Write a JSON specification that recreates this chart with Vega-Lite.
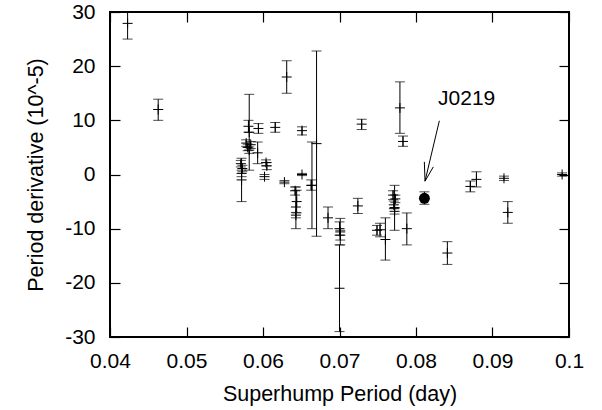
{
  "$schema": "https://vega.github.io/schema/vega-lite/v6.json",
  "width": 459,
  "height": 325,
  "autosize": {"type": "none"},
  "padding": {"left": 110, "top": 12, "right": 33, "bottom": 73},
  "background": "white",
  "config": {
    "view": {"stroke": "black", "strokeWidth": 2},
    "font": "Liberation Sans",
    "axis": {"grid": false, "domain": false, "tickColor": "black", "tickWidth": 1.2, "labelColor": "black", "titleColor": "black", "labelFont": "Liberation Sans", "titleFont": "Liberation Sans", "labelFontSize": 21, "titleFontSize": 21.5, "titleFontWeight": "normal", "labelFlush": false, "labelOverlap": false}
  },
  "datasets": {
    "pts": [
      {"star": "a", "x": 0.0423, "y": 27.9, "lo": 25.0, "hi": 30.0},
      {"star": "a", "x": 0.0463, "y": 12.0, "lo": 10.0, "hi": 13.9},
      {"star": "a", "x": 0.0572, "y": -1.0, "lo": -5.0, "hi": 3.0},
      {"star": "a", "x": 0.0571, "y": 2.0, "lo": 1.4, "hi": 2.6},
      {"star": "a", "x": 0.0573, "y": 1.1, "lo": 0.5, "hi": 1.7},
      {"star": "a", "x": 0.0572, "y": 0.2, "lo": -0.4, "hi": 0.8},
      {"star": "a", "x": 0.0582, "y": 7.8, "lo": 0.8, "hi": 14.8},
      {"star": "a", "x": 0.0581, "y": 8.9, "lo": 7.8, "hi": 10.0},
      {"star": "a", "x": 0.0578, "y": 5.8, "lo": 5.2, "hi": 6.4},
      {"star": "a", "x": 0.0580, "y": 5.0, "lo": 4.4, "hi": 5.6},
      {"star": "a", "x": 0.0582, "y": 4.5, "lo": 3.9, "hi": 5.1},
      {"star": "a", "x": 0.0584, "y": 5.5, "lo": 4.8, "hi": 6.1},
      {"star": "a", "x": 0.0593, "y": 4.0, "lo": 2.0, "hi": 6.0},
      {"star": "a", "x": 0.0594, "y": 8.5, "lo": 7.6, "hi": 9.4},
      {"star": "a", "x": 0.0604, "y": 2.2, "lo": 1.6, "hi": 2.7},
      {"star": "a", "x": 0.0605, "y": 1.6, "lo": 0.9, "hi": 2.2},
      {"star": "a", "x": 0.0602, "y": -0.4, "lo": -0.9, "hi": 0.0},
      {"star": "a", "x": 0.0616, "y": 8.7, "lo": 7.8, "hi": 9.6},
      {"star": "a", "x": 0.0628, "y": -1.4, "lo": -1.7, "hi": -1.1},
      {"star": "a", "x": 0.0631, "y": 18.0, "lo": 15.0, "hi": 21.0},
      {"star": "a", "x": 0.0643, "y": -6.0, "lo": -10.0, "hi": -2.3},
      {"star": "a", "x": 0.0642, "y": -3.0, "lo": -3.8, "hi": -2.3},
      {"star": "a", "x": 0.0644, "y": -5.0, "lo": -7.1, "hi": -2.9},
      {"star": "a", "x": 0.0643, "y": -7.5, "lo": -8.0, "hi": -7.0},
      {"star": "a", "x": 0.0651, "y": 8.1, "lo": 7.3, "hi": 8.8},
      {"star": "a", "x": 0.0651, "y": 0.0, "lo": -0.2, "hi": 0.2},
      {"star": "a", "x": 0.0664, "y": -2.0, "lo": -10.0, "hi": 6.0},
      {"star": "a", "x": 0.0663, "y": -2.0, "lo": -2.9, "hi": -1.0},
      {"star": "a", "x": 0.0670, "y": 5.7, "lo": -11.4, "hi": 22.8},
      {"star": "a", "x": 0.0685, "y": -8.0, "lo": -10.0, "hi": -6.0},
      {"star": "a", "x": 0.0700, "y": -21.0, "lo": -29.0, "hi": -13.0},
      {"star": "a", "x": 0.0701, "y": -10.6, "lo": -13.0, "hi": -8.1},
      {"star": "a", "x": 0.0700, "y": -10.0, "lo": -11.2, "hi": -8.75},
      {"star": "a", "x": 0.0701, "y": -11.2, "lo": -12.1, "hi": -10.3},
      {"star": "a", "x": 0.0724, "y": -5.8, "lo": -7.2, "hi": -4.4},
      {"star": "a", "x": 0.0729, "y": 9.3, "lo": 8.3, "hi": 10.2},
      {"star": "a", "x": 0.0749, "y": -10.3, "lo": -11.2, "hi": -9.4},
      {"star": "a", "x": 0.0753, "y": -10.2, "lo": -11.5, "hi": -9.0},
      {"star": "a", "x": 0.0760, "y": -12.0, "lo": -15.8, "hi": -8.0},
      {"star": "a", "x": 0.0772, "y": -6.1, "lo": -10.3, "hi": -2.0},
      {"star": "a", "x": 0.0770, "y": -3.8, "lo": -4.6, "hi": -3.0},
      {"star": "a", "x": 0.0773, "y": -4.5, "lo": -5.2, "hi": -3.8},
      {"star": "a", "x": 0.0771, "y": -5.6, "lo": -6.3, "hi": -4.9},
      {"star": "a", "x": 0.0772, "y": -6.8, "lo": -7.3, "hi": -6.3},
      {"star": "a", "x": 0.0779, "y": 12.3, "lo": 7.6, "hi": 17.1},
      {"star": "a", "x": 0.0783, "y": 6.1, "lo": 5.2, "hi": 7.1},
      {"star": "a", "x": 0.0788, "y": -10.0, "lo": -13.0, "hi": -7.1},
      {"star": "J0219", "x": 0.0811, "y": -4.4, "lo": -5.5, "hi": -3.2},
      {"star": "a", "x": 0.0841, "y": -14.5, "lo": -16.6, "hi": -12.4},
      {"star": "a", "x": 0.0871, "y": -2.2, "lo": -3.2, "hi": -1.2},
      {"star": "a", "x": 0.0879, "y": -0.9, "lo": -2.3, "hi": 0.5},
      {"star": "a", "x": 0.0915, "y": -0.7, "lo": -1.1, "hi": -0.3},
      {"star": "a", "x": 0.0920, "y": -7.0, "lo": -9.0, "hi": -5.0},
      {"star": "a", "x": 0.0991, "y": 0.0, "lo": -0.3, "hi": 0.3}
    ],
    "arrow": [
      {"x": 0.08305, "y": 9.92, "x2": 0.08118, "y2": -1.23},
      {"x": 0.08118, "y": -1.23, "x2": 0.08109, "y2": 2.34},
      {"x": 0.08118, "y": -1.23, "x2": 0.08226, "y2": 1.41}
    ],
    "label": [{"x": 0.08288, "y": 13.9, "text": "J0219"}]
  },
  "resolve": {"axis": {"x": "independent", "y": "independent"}},
  "layer": [
    {
      "data": {"name": "pts"},
      "mark": {"type": "rule", "color": "black", "strokeWidth": 1},
      "encoding": {
        "x": {"field": "x", "type": "quantitative", "scale": {"domain": [0.04, 0.1], "nice": false, "zero": false},
              "axis": {"orient": "bottom", "values": [0.04, 0.05, 0.06, 0.07, 0.08, 0.09, 0.1], "format": "~g", "tickSize": -10, "labelPadding": 23, "title": "Superhump Period (day)", "titlePadding": 12}},
        "y": {"field": "lo", "type": "quantitative", "scale": {"domain": [-30, 30], "nice": false, "zero": false},
              "axis": {"orient": "left", "values": [-30, -20, -10, 0, 10, 20, 30], "labelExpr": "datum.value < 0 ? '-' + abs(datum.value) : '' + datum.value", "tickSize": -10, "labelPadding": 25, "title": "Period derivative (10^-5)", "titlePadding": 17}},
        "y2": {"field": "hi"}
      }
    },
    {
      "data": {"name": "pts"},
      "mark": {"type": "tick", "orient": "horizontal", "size": 10, "thickness": 1, "color": "black"},
      "encoding": {
        "x": {"field": "x", "type": "quantitative", "axis": {"orient": "top", "values": [0.04, 0.05, 0.06, 0.07, 0.08, 0.09, 0.1], "labels": false, "tickSize": -10, "title": null}},
        "y": {"field": "lo", "type": "quantitative", "axis": {"orient": "right", "values": [-30, -20, -10, 0, 10, 20, 30], "labels": false, "tickSize": -10, "title": null}}
      }
    },
    {
      "data": {"name": "pts"},
      "mark": {"type": "tick", "orient": "horizontal", "size": 10, "thickness": 1, "color": "black"},
      "encoding": {
        "x": {"field": "x", "type": "quantitative", "axis": null},
        "y": {"field": "hi", "type": "quantitative", "axis": null}
      }
    },
    {
      "data": {"name": "pts"},
      "transform": [{"filter": "datum.star != 'J0219'"}],
      "mark": {"type": "point", "shape": "M-1,0L1,0M0,-1L0,1", "size": 100, "filled": false, "stroke": "black", "strokeWidth": 1, "opacity": 1},
      "encoding": {
        "x": {"field": "x", "type": "quantitative", "axis": null},
        "y": {"field": "y", "type": "quantitative", "axis": null}
      }
    },
    {
      "data": {"name": "pts"},
      "transform": [{"filter": "datum.star == 'J0219'"}],
      "mark": {"type": "circle", "size": 120, "color": "black", "opacity": 1},
      "encoding": {
        "x": {"field": "x", "type": "quantitative", "axis": null},
        "y": {"field": "y", "type": "quantitative", "axis": null}
      }
    },
    {
      "data": {"name": "arrow"},
      "mark": {"type": "rule", "color": "black", "strokeWidth": 1},
      "encoding": {
        "x": {"field": "x", "type": "quantitative", "axis": null},
        "y": {"field": "y", "type": "quantitative", "axis": null},
        "x2": {"field": "x2"},
        "y2": {"field": "y2"}
      }
    },
    {
      "data": {"name": "label"},
      "mark": {"type": "text", "align": "left", "baseline": "middle", "fontSize": 21, "font": "Liberation Sans", "color": "black"},
      "encoding": {
        "x": {"field": "x", "type": "quantitative", "axis": null},
        "y": {"field": "y", "type": "quantitative", "axis": null},
        "text": {"field": "text"}
      }
    }
  ]
}
